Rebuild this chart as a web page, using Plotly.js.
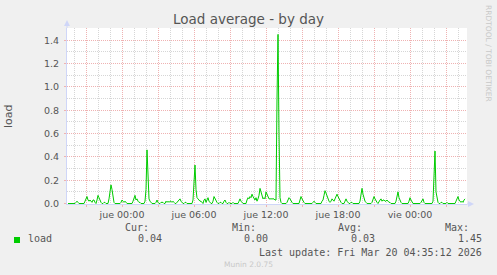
<!DOCTYPE html>
<html><head><meta charset="utf-8">
<script src="https://cdn.plot.ly/plotly-3.0.1.min.js"></script>
<style>html,body{margin:0;padding:0;background:#f0f0f0;}#chart{width:497px;height:275px;}</style>
</head><body><div id="chart"></div>
<script>
// ---- data ----
const seriesName = 'load';
const startUTC = [2026, 2, 18, 19, 30]; // first sample: Mar 18 19:30, 5-minute steps
const stepMinutes = 5;
const loadValues = [
  0,0,0,0,0,0,0,0,.01,.02,.01,0,
  0,0,0,0,0,.02,.05,.06,.03,.02,.03,.02,
  .01,.03,.03,.01,0,.03,.07,.05,.02,.01,0,0,
  .01,.01,0,0,0,.04,.12,.16,.12,.05,.01,0,
  0,0,0,0,0,.01,.03,.02,.01,.02,.01,0,
  0,0,0,0,0,.02,.05,.07,.03,.04,.02,.01,
  .01,0,0,0,0,.02,.12,.46,.15,.04,.02,.01,
  0,0,0,0,.01,.03,.01,0,0,.01,.01,.01,
  0,0,.02,.01,.02,.01,.02,.02,.01,.02,.01,0,
  0,.01,.02,.03,.04,.02,.01,0,0,.01,.01,0,
  0,0,0,0,0,.03,.2,.33,.12,.05,.04,.03,
  .02,.02,.01,0,.03,.04,.01,.03,.05,.02,.01,0,
  0,.02,.06,.04,.02,.01,0,0,.01,.01,0,0,
  .02,.03,.01,0,0,.01,0,0,0,.01,0,0,
  0,0,0,.02,.04,.02,.01,0,0,0,0,.03,
  .05,.04,.06,.05,.08,.06,.04,.03,.05,.02,.04,.07,
  .13,.09,.05,.04,.05,.04,.1,.08,.05,.04,.04,.04,
  .04,.04,.04,.03,.03,.9,1.45,.6,.05,.01,0,0,
  0,0,0,.01,.03,.05,.04,.02,.01,0,0,0,
  0,0,0,0,.03,.06,.04,.02,.01,0,0,0,
  0,0,0,0,0,.01,.02,.01,0,0,0,0,
  0,0,.02,.03,.07,.11,.09,.06,.04,.02,.01,.02,
  .04,.03,.02,.04,.07,.08,.06,.04,.02,.01,0,0,
  0,.02,.04,.02,.01,0,0,.01,.01,0,0,0,
  0,0,0,0,.02,.06,.13,.08,.04,.02,.01,0,
  0,0,0,0,.01,.03,.06,.04,.02,.01,0,.02,
  .03,.04,.02,.03,.03,.02,.02,.03,.02,.01,.01,0,
  0,0,0,0,.02,.06,.1,.05,.02,.01,0,0,
  0,0,0,0,0,.02,.05,.03,.01,0,0,0,
  0,0,0,0,0,.01,.03,.04,.01,0,0,0,
  0,0,0,0,0,.02,.2,.45,.1,.03,.01,0,
  0,.01,.01,0,0,0,0,.01,0,0,0,0,
  0,0,0,0,.02,.05,.06,.03,.02,.01,.02,.01,
  .03,.04
];
const tickTimes = ['2026-03-18 21:00','2026-03-19 00:00','2026-03-19 03:00','2026-03-19 06:00',
  '2026-03-19 09:00','2026-03-19 12:00','2026-03-19 15:00','2026-03-19 18:00',
  '2026-03-19 21:00','2026-03-20 00:00','2026-03-20 03:00'];
const tickLabels = ['','jue 00:00','','jue 06:00','','jue 12:00','','jue 18:00','','vie 00:00',''];
const legendHeaders = ['Cur:','Min:','Avg:','Max:'];
const legendValues = ['0.04','0.00','0.03','1.45'];
const lastUpdate = 'Last update: Fri Mar 20 04:35:12 2026';

// ---- build ----
function fmt(d){
  const p = n => String(n).padStart(2,'0');
  return d.getUTCFullYear()+'-'+p(d.getUTCMonth()+1)+'-'+p(d.getUTCDate())+' '+p(d.getUTCHours())+':'+p(d.getUTCMinutes());
}
const base = Date.UTC(...startUTC);
const times = loadValues.map((v,i)=>fmt(new Date(base + i*stepMinutes*60000)));

const L=67, R=467, T=28, B=204;
const px = x => (x-L)/(R-L);
const py = y => (B-y)/(B-T);

const FONT = '#555';
const MAJ = '#efb2b2', MIN = '#d6d6d6', AXC = '#CFD6F8';
const mono = {family:'DejaVu Sans Mono', size:10, color:FONT};

const annotations = [
  {text:'load', x:px(8), y:0.5, xanchor:'center', textangle:-90, font:{family:'DejaVu Sans', size:11, color:FONT}},
  {text:'RRDTOOL / TOBI OETIKER', x:px(488.5), y:py(53.5), xanchor:'center', textangle:90, font:{family:'DejaVu Sans', size:7.5, color:'#c8c8c8'}},
  {text:seriesName, x:px(26), y:py(239), xanchor:'left', font:mono},
  {text:lastUpdate, x:px(484), y:py(252), xanchor:'right', font:mono},
  {text:'Munin 2.0.75', x:px(248), y:py(264), xanchor:'center', font:{family:'DejaVu Sans', size:7.5, color:'#c8c8c8'}}
];
const hdrRight = [151,257.5,364,471];
const valRight = [164,270,377,484];
legendHeaders.forEach((h,i)=>annotations.push({text:h, x:px(hdrRight[i]), y:py(227), xanchor:'right', font:mono}));
legendValues.forEach((v,i)=>annotations.push({text:v, x:px(valRight[i]), y:py(239), xanchor:'right', font:mono}));
annotations.forEach(a=>{a.xref='paper'; a.yref='paper'; a.yanchor='middle'; a.showarrow=false;});

const shapes = [
  {type:'line', xref:'paper', yref:'paper', x0:0, x1:0, ysizemode:'pixel', yanchor:1, y0:0, y1:6, line:{color:AXC, width:1}},
  {type:'path', xref:'paper', yref:'paper', xsizemode:'pixel', xanchor:0, ysizemode:'pixel', yanchor:1,
   path:'M-3,2 L3,2 L0,8 Z', fillcolor:AXC, line:{width:0}},
  {type:'line', xref:'paper', yref:'paper', y0:0, y1:0, xsizemode:'pixel', xanchor:1, x0:0, x1:4, line:{color:AXC, width:1}},
  {type:'path', xref:'paper', yref:'paper', xsizemode:'pixel', xanchor:1, ysizemode:'pixel', yanchor:0,
   path:'M1,-3 L1,3 L7,0 Z', fillcolor:AXC, line:{width:0}},
  {type:'rect', xref:'paper', yref:'paper', x0:px(14), x1:px(20), y0:py(243), y1:py(237), fillcolor:'#00cc00', line:{width:0}}
];

const trace = {x:times, y:loadValues, type:'scatter', mode:'lines', name:seriesName,
  line:{color:'#00cc00', width:1}, hoverinfo:'skip'};

const layout = {
  width:497, height:275,
  paper_bgcolor:'#f0f0f0', plot_bgcolor:'#ffffff',
  margin:{l:L, r:497-R, t:T, b:275-B, pad:0},
  showlegend:false,
  title:{text:'Load average - by day', font:{family:'DejaVu Sans', size:13.5, color:FONT},
    x:0.5, xref:'container', xanchor:'center', y:1-19/275, yref:'container', yanchor:'middle'},
  xaxis:{type:'date', range:['2026-03-18 19:25','2026-03-20 04:45'],
    tickmode:'array', tickvals:tickTimes, ticktext:tickLabels,
    showgrid:true, gridcolor:MAJ, griddash:'1px,1px', gridwidth:1,
    ticks:'outside', ticklen:2, tickcolor:MAJ, ticklabelstandoff:0,
    tickfont:{family:'DejaVu Sans', size:9.5, color:FONT},
    showline:true, linecolor:AXC, linewidth:1, zeroline:false,
    minor:{tickmode:'linear', tick0:'2026-03-18 00:00', dtick:3600000, showgrid:true, gridcolor:MIN, griddash:'1px,1px', ticks:''},
    fixedrange:true},
  yaxis:{range:[-0.004,1.505], tickmode:'linear', tick0:0, dtick:0.2, tickformat:'.1f',
    showgrid:true, gridcolor:MAJ, griddash:'1px,1px', gridwidth:1,
    ticks:'outside', ticklen:2, tickcolor:MAJ, ticklabelstandoff:3,
    tickfont:{family:'DejaVu Sans', size:9.5, color:FONT},
    showline:true, linecolor:AXC, linewidth:1, zeroline:false,
    minor:{tickmode:'linear', tick0:0, dtick:0.1, showgrid:true, gridcolor:MIN, griddash:'1px,1px', ticks:''},
    fixedrange:true},
  annotations, shapes
};
Plotly.newPlot('chart', [trace], layout, {displayModeBar:false, staticPlot:true});
</script></body></html>
